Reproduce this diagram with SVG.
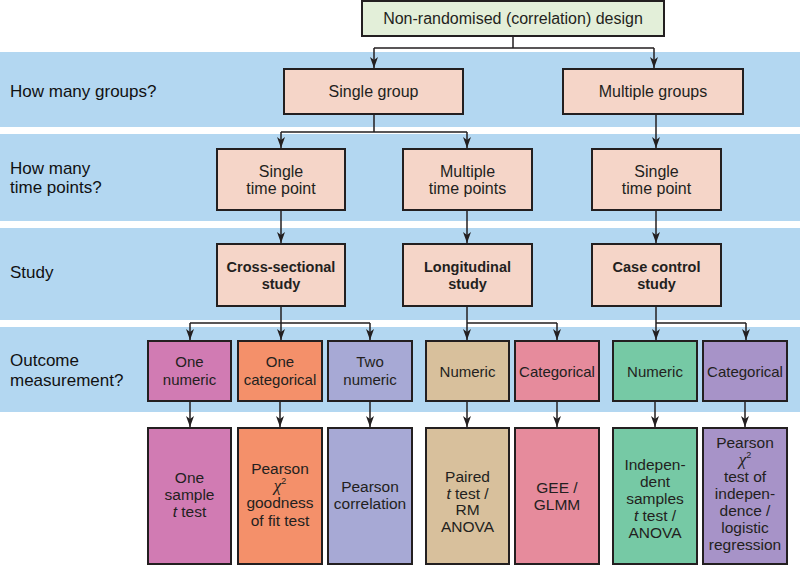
<svg xmlns="http://www.w3.org/2000/svg" width="800" height="566" viewBox="0 0 800 566">
<defs>
<style>
.band{fill:#b3d7f1}
.box{stroke:#231f20;stroke-width:2}
.peach{fill:#f5d5c8}
.lbl{font-family:"Liberation Sans",Arial,sans-serif;font-size:17px;fill:#111}
.t{font-family:"Liberation Sans",Arial,sans-serif;font-size:15.5px;fill:#231f20;text-anchor:middle}
.o{font-family:"Liberation Sans",Arial,sans-serif;font-size:15px;fill:#231f20;text-anchor:middle}
.b{font-family:"Liberation Sans",Arial,sans-serif;font-size:14.5px;font-weight:bold;fill:#231f20;text-anchor:middle}
.chi{font-family:"Liberation Serif","Times New Roman",serif;font-style:italic;font-size:17px}
.conn line,.conn path{stroke:#231f20;stroke-width:1.5;fill:none}
</style>
<marker id="ah" markerUnits="userSpaceOnUse" markerWidth="12" markerHeight="12" viewBox="0 0 12 8" refX="11" refY="4" orient="auto">
<path d="M0,0 L11,4 L0,8 L3,4 z" fill="#231f20"/>
</marker>
</defs>
<rect width="800" height="566" fill="#fff"/>
<g id="bands">
<rect class="band" x="0" y="52" width="800" height="75"/>
<rect class="band" x="0" y="134" width="800" height="87"/>
<rect class="band" x="0" y="228" width="800" height="92"/>
<rect class="band" x="0" y="327" width="800" height="85"/>
</g>
<g id="row-labels">
<text class="lbl" x="10" y="97">How many groups?</text>
<text class="lbl" x="10" y="174">How many</text>
<text class="lbl" x="10" y="193">time points?</text>
<text class="lbl" x="10" y="278">Study</text>
<text class="lbl" x="10" y="366">Outcome</text>
<text class="lbl" x="10" y="386">measurement?</text>
</g>
<g class="conn" id="connectors">
<path d="M513,36 V48 M374,48 H654"/>
<line x1="374" y1="48" x2="374" y2="68" marker-end="url(#ah)"/>
<line x1="654" y1="48" x2="654" y2="68" marker-end="url(#ah)"/>
<path d="M374,114 V132 M281,132 H467"/>
<line x1="281" y1="132" x2="281" y2="148" marker-end="url(#ah)"/>
<line x1="467" y1="132" x2="467" y2="148" marker-end="url(#ah)"/>
<line x1="656" y1="114" x2="656" y2="148" marker-end="url(#ah)"/>
<line x1="281" y1="210" x2="281" y2="243" marker-end="url(#ah)"/>
<line x1="467" y1="210" x2="467" y2="243" marker-end="url(#ah)"/>
<line x1="656" y1="210" x2="656" y2="243" marker-end="url(#ah)"/>
<path d="M190,323 H370 M467,323 H557 M656,323 H746"/>
<line x1="281" y1="306" x2="281" y2="340" marker-end="url(#ah)"/>
<line x1="190" y1="323" x2="190" y2="340" marker-end="url(#ah)"/>
<line x1="370" y1="323" x2="370" y2="340" marker-end="url(#ah)"/>
<line x1="467" y1="306" x2="467" y2="340" marker-end="url(#ah)"/>
<line x1="557" y1="323" x2="557" y2="340" marker-end="url(#ah)"/>
<line x1="656" y1="306" x2="656" y2="340" marker-end="url(#ah)"/>
<line x1="746" y1="323" x2="746" y2="340" marker-end="url(#ah)"/>
<line x1="190" y1="401" x2="190" y2="427" marker-end="url(#ah)"/>
<line x1="280" y1="401" x2="280" y2="427" marker-end="url(#ah)"/>
<line x1="370" y1="401" x2="370" y2="427" marker-end="url(#ah)"/>
<line x1="467" y1="401" x2="467" y2="427" marker-end="url(#ah)"/>
<line x1="557" y1="401" x2="557" y2="427" marker-end="url(#ah)"/>
<line x1="655" y1="401" x2="655" y2="427" marker-end="url(#ah)"/>
<line x1="745" y1="401" x2="745" y2="427" marker-end="url(#ah)"/>
</g>
<g id="design">
<rect class="box" x="362" y="1" width="302" height="35" fill="#e3efd9"/>
<text class="t" x="513" y="24" style="font-size:16px">Non-randomised (correlation) design</text>
</g>
<g id="single-group">
<rect class="box peach" x="284" y="69" width="179" height="45"/>
<text class="t" x="373.5" y="97" style="font-size:16px">Single group</text>
</g>
<g id="multiple-groups">
<rect class="box peach" x="563" y="69" width="180" height="45"/>
<text class="t" x="653" y="97" style="font-size:16px">Multiple groups</text>
</g>
<g id="tp-single-1">
<rect class="box peach" x="217" y="149" width="128" height="61"/>
<text class="t" x="281" y="177" style="font-size:16px">Single</text>
<text class="t" x="281" y="194" style="font-size:16px">time point</text>
</g>
<g id="tp-multiple">
<rect class="box peach" x="403" y="149" width="129" height="61"/>
<text class="t" x="467.5" y="177" style="font-size:16px">Multiple</text>
<text class="t" x="467.5" y="194" style="font-size:16px">time points</text>
</g>
<g id="tp-single-2">
<rect class="box peach" x="592" y="149" width="129" height="61"/>
<text class="t" x="656.5" y="177" style="font-size:16px">Single</text>
<text class="t" x="656.5" y="194" style="font-size:16px">time point</text>
</g>
<g id="cross-sectional">
<rect class="box peach" x="217" y="244" width="128" height="62"/>
<text class="b" x="281" y="272">Cross-sectional</text>
<text class="b" x="281" y="289">study</text>
</g>
<g id="longitudinal">
<rect class="box peach" x="403" y="244" width="129" height="62"/>
<text class="b" x="467.5" y="272">Longitudinal</text>
<text class="b" x="467.5" y="289">study</text>
</g>
<g id="case-control">
<rect class="box peach" x="592" y="244" width="129" height="62"/>
<text class="b" x="656.5" y="272">Case control</text>
<text class="b" x="656.5" y="289">study</text>
</g>
<g id="one-numeric">
<rect class="box" x="148" y="341" width="83" height="60" fill="#d17bb3"/>
<text class="o" x="189.5" y="367">One</text>
<text class="o" x="189.5" y="385">numeric</text>
</g>
<g id="one-categorical">
<rect class="box" x="238" y="341" width="84" height="60" fill="#f4906a"/>
<text class="o" x="280" y="367">One</text>
<text class="o" x="280" y="385">categorical</text>
</g>
<g id="two-numeric">
<rect class="box" x="328" y="341" width="84" height="60" fill="#a7a9d5"/>
<text class="o" x="370" y="367">Two</text>
<text class="o" x="370" y="385">numeric</text>
</g>
<g id="long-numeric">
<rect class="box" x="426" y="341" width="83" height="60" fill="#d8c09c"/>
<text class="o" x="467.5" y="377">Numeric</text>
</g>
<g id="long-categorical">
<rect class="box" x="515" y="341" width="84" height="60" fill="#e68b9c"/>
<text class="o" x="557" y="377">Categorical</text>
</g>
<g id="cc-numeric">
<rect class="box" x="613" y="341" width="84" height="60" fill="#76c9a5"/>
<text class="o" x="655" y="377">Numeric</text>
</g>
<g id="cc-categorical">
<rect class="box" x="703" y="341" width="84" height="60" fill="#a793c8"/>
<text class="o" x="745" y="377">Categorical</text>
</g>
<g id="one-sample-t">
<rect class="box" x="148" y="428" width="83" height="136" fill="#d17bb3"/>
<text class="t" x="189.5" y="483">One</text>
<text class="t" x="189.5" y="500">sample</text>
<text class="t" x="189.5" y="517"><tspan font-style="italic">t</tspan> test</text>
</g>
<g id="chi-goodness">
<rect class="box" x="238" y="428" width="84" height="136" fill="#f4906a"/>
<text class="t" x="280" y="474">Pearson</text>
<text class="t" x="280" y="491"><tspan class="chi">χ</tspan><tspan font-size="9" dy="-7">2</tspan></text>
<text class="t" x="280" y="508">goodness</text>
<text class="t" x="280" y="526">of fit test</text>
</g>
<g id="pearson-corr">
<rect class="box" x="328" y="428" width="84" height="136" fill="#a7a9d5"/>
<text class="t" x="370" y="492">Pearson</text>
<text class="t" x="370" y="509">correlation</text>
</g>
<g id="paired-t">
<rect class="box" x="426" y="428" width="83" height="136" fill="#d8c09c"/>
<text class="t" x="467.5" y="482">Paired</text>
<text class="t" x="467.5" y="499"><tspan font-style="italic">t</tspan> test /</text>
<text class="t" x="467.5" y="515">RM</text>
<text class="t" x="467.5" y="532">ANOVA</text>
</g>
<g id="gee-glmm">
<rect class="box" x="515" y="428" width="84" height="136" fill="#e68b9c"/>
<text class="t" x="557" y="493">GEE /</text>
<text class="t" x="557" y="510">GLMM</text>
</g>
<g id="indep-t">
<rect class="box" x="613" y="428" width="84" height="136" fill="#76c9a5"/>
<text class="t" x="655" y="470">Indepen-</text>
<text class="t" x="655" y="487">dent</text>
<text class="t" x="655" y="504">samples</text>
<text class="t" x="655" y="521"><tspan font-style="italic">t</tspan> test /</text>
<text class="t" x="655" y="538">ANOVA</text>
</g>
<g id="chi-independence">
<rect class="box" x="703" y="428" width="84" height="136" fill="#a793c8"/>
<text class="t" x="745" y="448">Pearson</text>
<text class="t" x="745" y="465"><tspan class="chi">χ</tspan><tspan font-size="9" dy="-7">2</tspan></text>
<text class="t" x="745" y="482">test of</text>
<text class="t" x="745" y="499">indepen-</text>
<text class="t" x="745" y="516">dence /</text>
<text class="t" x="745" y="533">logistic</text>
<text class="t" x="745" y="550">regression</text>
</g>
</svg>
